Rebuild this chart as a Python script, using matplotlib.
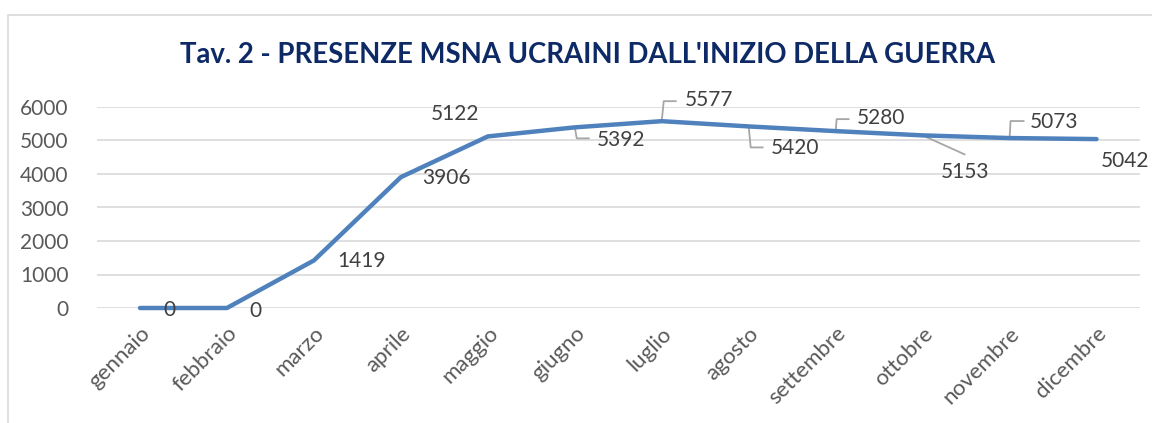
import matplotlib
matplotlib.use("Agg")
import matplotlib.pyplot as plt
from matplotlib.patches import Rectangle

mesi = ["gennaio", "febbraio", "marzo", "aprile", "maggio", "giugno",
        "luglio", "agosto", "settembre", "ottobre", "novembre", "dicembre"]
presenze = [0, 0, 1419, 3906, 5122, 5392, 5577, 5420, 5280, 5153, 5073, 5042]
yticks = [0, 1000, 2000, 3000, 4000, 5000, 6000]

# label offsets from each point, in pixels (x right, y up)
label_off = [(29, -2), (29, -3), (48, -1), (46, -1), (-33, 22), (46, -13),
             (47, 21), (46, -22), (45, 13), (42, -37), (44, 16), (29, -22)]
# leader lines (pixel offsets from the point), None = no leader
leaders = [None, None, None, None, None,
           [(0, 0), (2, -11), (14, -11)],
           [(0, 0), (2, 20), (14, 20)],
           [(0, 0), (2, -21), (14, -21)],
           [(0, 0), (1, 12), (13, 12)],
           [(0, 0), (42, -19)],
           [(0, 0), (1, 17), (14, 17)],
           None]

W, H = 1152, 423
fig = plt.figure(figsize=(W / 100, H / 100), dpi=100)
plt.rcParams["font.family"] = ["Lato", "DejaVu Sans"]

# outer chart frame
fig.patches.append(Rectangle((8 / W, -0.1), 1.2, (H - 15) / H + 0.1,
                             transform=fig.transFigure, fill=False,
                             ec="#d9d9d9", lw=1.2))

ax = fig.add_axes([96.5 / W, (H - 308) / H, (1140 - 96.5) / W, (308 - 107) / H])
x = list(range(len(mesi)))
ax.plot(x, presenze, color="#4f81bd", lw=3.2, solid_capstyle="round",
        solid_joinstyle="round", clip_on=False, zorder=3)
ax.set_xlim(-0.5, len(mesi) - 0.5)
ax.set_ylim(0, 6000)
ax.set_yticks(yticks)
ax.set_xticks(x)
ax.set_xticklabels(mesi, rotation=45, ha="right", va="top", rotation_mode="anchor")
ax.grid(axis="y", color="#d9d9d9", lw=1.2)
ax.set_axisbelow(True)
for s in ax.spines.values():
    s.set_visible(False)
ax.tick_params(axis="both", length=0, colors="#595959")
ax.tick_params(axis="y", pad=20, labelsize=15)
ax.tick_params(axis="x", pad=11, labelsize=16)

for i, v in enumerate(presenze):
    dx, dy = label_off[i]
    ax.annotate(str(v), (i, v), xytext=(dx, dy), textcoords="offset pixels",
                ha="center", va="center", fontsize=15, color="#404040",
                annotation_clip=False, zorder=4)
    if leaders[i]:
        px, py = ax.transData.transform((i, v))
        xs = [px + a for a, b in leaders[i]]
        ys = [py + b for a, b in leaders[i]]
        ax.plot(xs, ys, transform=None, color="#a6a6a6", lw=1.3, zorder=2,
                clip_on=False)

fig.text(588 / W, 1 - 55 / H, "Tav. 2 - PRESENZE MSNA UCRAINI DALL'INIZIO DELLA GUERRA",
         ha="center", va="center", fontsize=19.8, fontweight="bold", color="#0e2a66")

fig.savefig("out.png", dpi=100)
